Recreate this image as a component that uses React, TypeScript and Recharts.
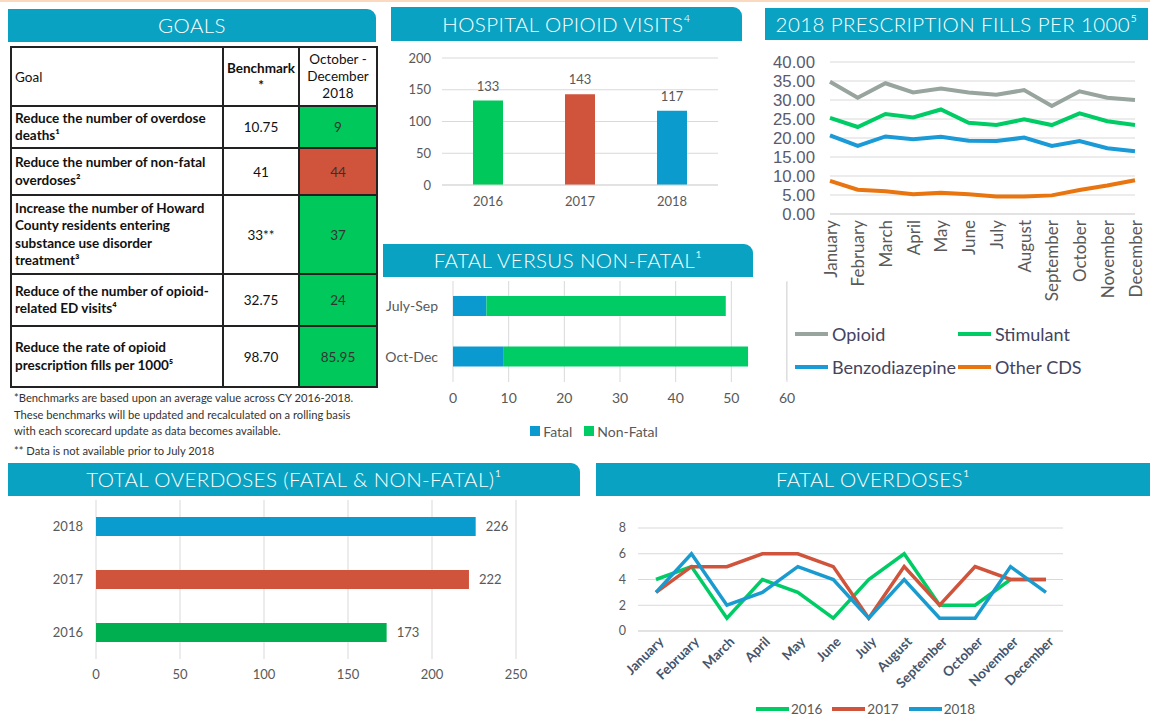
import React from 'react';
import {
  BarChart, Bar, XAxis, YAxis, CartesianGrid, LabelList, Cell, LineChart, Line, Legend,
} from 'recharts';

// ---------- DATA ----------
const goalTexts = [
  'Reduce the number of overdose deaths¹',
  'Reduce the number of non-fatal overdoses²',
  'Increase the number of Howard County residents entering substance use disorder treatment³',
  'Reduce of the number of opioid-related ED visits⁴',
  'Reduce the rate of opioid prescription fills per 1000⁵',
];
const goalBenchmarks = ['10.75', '41', '33**', '32.75', '98.70'];
const goalResults = ['9', '44', '37', '24', '85.95'];
const goalMet = [true, false, true, true, true];

const hospitalYears = ['2016', '2017', '2018'];
const hospitalVisits = [133, 143, 117];
const hospitalTicks = [0, 50, 100, 150, 200];

const months = ['January', 'February', 'March', 'April', 'May', 'June', 'July', 'August', 'September', 'October', 'November', 'December'];
const opioidFills = [34.8, 30.6, 34.4, 32.0, 33.0, 32.0, 31.4, 32.6, 28.4, 32.3, 30.6, 30.0];
const stimulantFills = [25.3, 22.9, 26.3, 25.4, 27.5, 24.0, 23.4, 24.9, 23.4, 26.5, 24.4, 23.4];
const benzoFills = [20.7, 17.9, 20.4, 19.7, 20.3, 19.3, 19.2, 20.1, 17.9, 19.2, 17.3, 16.5];
const otherCdsFills = [8.7, 6.4, 6.0, 5.2, 5.6, 5.2, 4.6, 4.6, 4.9, 6.3, 7.5, 8.9];
const fillTicks = [0, 5, 10, 15, 20, 25, 30, 35, 40];
const fillSeries = ['Opioid', 'Stimulant', 'Benzodiazepine', 'Other CDS'];
const fillColors = ['#98a49e', '#00cc66', '#1a9ad6', '#e8750f'];

const quarters = ['July-Sep', 'Oct-Dec'];
const fatalQuarter = [6, 9];
const nonFatalQuarter = [43, 44];
const quarterTicks = [0, 10, 20, 30, 40, 50, 60];

const totalYears = ['2018', '2017', '2016'];
const totalOverdoses = [226, 222, 173];
const totalTicks = [0, 50, 100, 150, 200, 250];

const fatal2016 = [4, 5, 1, 4, 3, 1, 4, 6, 2, 2, 4, 4];
const fatal2017 = [3, 5, 5, 6, 6, 5, 1, 5, 2, 5, 4, 4];
const fatal2018 = [3, 6, 2, 3, 5, 4, 1, 4, 1, 1, 5, 3];
const fatalTicks = [0, 2, 4, 6, 8];

// ---------- STYLE ----------
const TEAL = '#0aa2c2';
const GREEN = '#00c85a';
const RED = '#d0533b';
const BLUE = '#0b9bcc';
const GRAY_TXT = '#595959';
const GRID = '#d9d9d9';
const FONT = 'Lato, "Open Sans", "DejaVu Sans", sans-serif';

const hospitalData = hospitalYears.map((y, i) => ({ year: y, visits: hospitalVisits[i] }));
const hospitalColors = [GREEN, RED, BLUE];
const fillsData = months.map((m, i) => ({
  month: m, Opioid: opioidFills[i], Stimulant: stimulantFills[i], Benzodiazepine: benzoFills[i], 'Other CDS': otherCdsFills[i],
}));
const quarterData = quarters.map((q, i) => ({ q, Fatal: fatalQuarter[i], 'Non-Fatal': nonFatalQuarter[i] }));
const totalData = totalYears.map((y, i) => ({ year: y, total: totalOverdoses[i] }));
const totalColors = ['#0a9bcf', RED, '#00b050'];
const fatalData = months.map((m, i) => ({ month: m, '2016': fatal2016[i], '2017': fatal2017[i], '2018': fatal2018[i] }));

const Header = ({ left, top, width, height, rounded, children }: any) => (
  <div style={{
    position: 'absolute', left, top, width, height, background: TEAL, color: '#fff',
    fontFamily: FONT, fontWeight: 300, fontSize: 20.5, lineHeight: `${height}px`,
    textAlign: 'center', borderTopRightRadius: rounded ? 9 : 0, letterSpacing: 0.4, whiteSpace: 'nowrap',
  }}>{children}</div>
);

const cellBorder = '2px solid #222';

const GoalsTable = () => (
  <table style={{
    position: 'absolute', left: 10, top: 46, width: 366, borderCollapse: 'collapse',
    fontFamily: FONT, fontSize: 13.5, color: '#111', tableLayout: 'fixed',
  }}>
    <colgroup><col style={{ width: 212 }} /><col style={{ width: 76 }} /><col style={{ width: 78 }} /></colgroup>
    <tbody>
      <tr style={{ height: 59 }}>
        <td style={{ border: cellBorder, padding: '0 3px' }}>Goal</td>
        <td style={{ border: cellBorder, textAlign: 'center', fontWeight: 700, verticalAlign: 'top', paddingTop: 12, lineHeight: '17px' }}>Benchmark<br />*</td>
        <td style={{ border: cellBorder, textAlign: 'center', lineHeight: '17px' }}>October -<br />December<br />2018</td>
      </tr>
      {goalTexts.map((g, i) => (
        <tr key={i} style={{ height: [42, 47, 79, 52, 61][i] }}>
          <td style={{ border: cellBorder, padding: '0 8px 0 3px', fontWeight: 700, lineHeight: '17.5px' }}>{g}</td>
          <td style={{ border: cellBorder, textAlign: 'center' }}>{goalBenchmarks[i]}</td>
          <td style={{ border: cellBorder, textAlign: 'center', background: goalMet[i] ? GREEN : RED, color: '#333' }}>{goalResults[i]}</td>
        </tr>
      ))}
    </tbody>
  </table>
);

const FillsTick = ({ x, y, payload }: any) => (
  <text x={x} y={y} transform={`rotate(-90, ${x}, ${y})`} textAnchor="end" dominantBaseline="central"
    fill={GRAY_TXT} fontSize={17} fontFamily={FONT}>{payload.value}</text>
);

const FatalTick = ({ x, y, payload }: any) => (
  <text x={x + 5} y={y + 6} transform={`rotate(-45, ${x + 5}, ${y + 6})`} textAnchor="end" dominantBaseline="central"
    fill="#44546a" fontSize={13.5} fontWeight={700} fontFamily={FONT}>{payload.value}</text>
);

const FillsLegend = () => (
  <div style={{ position: 'relative', height: 70, fontFamily: FONT, fontSize: 18, color: '#44445e' }}>
    {fillSeries.map((name, i) => (
      <div key={i} style={{ position: 'absolute', left: i % 2 === 0 ? 30 : 193, top: i < 2 ? 8 : 41, display: 'flex', alignItems: 'center', height: 24, whiteSpace: 'nowrap' }}>
        <span style={{ display: 'inline-block', width: 33, height: 4, background: fillColors[i], marginRight: 4 }} />
        <span>{name}</span>
      </div>
    ))}
  </div>
);

const SquareLegend = ({ payload }: any) => (
  <div style={{ height: 26, paddingLeft: 30, display: 'flex', justifyContent: 'center', alignItems: 'center', fontFamily: FONT, fontSize: 14, color: GRAY_TXT }}>
    {(payload || []).map((p: any, i: number) => (
      <span key={i} style={{ display: 'flex', alignItems: 'center', marginRight: 12 }}>
        <span style={{ display: 'inline-block', width: 10, height: 10, background: p.color, marginRight: 3 }} />{p.value}
      </span>
    ))}
  </div>
);

const LineLegend = ({ payload }: any) => (
  <div style={{ height: 16, paddingLeft: 82, display: 'flex', justifyContent: 'center', alignItems: 'center', fontFamily: FONT, fontSize: 13.5, color: GRAY_TXT }}>
    {(payload || []).map((p: any, i: number) => (
      <span key={i} style={{ display: 'flex', alignItems: 'center', marginRight: 10 }}>
        <span style={{ display: 'inline-block', width: 33, height: 4, background: p.color, marginRight: 2 }} />{p.value}
      </span>
    ))}
  </div>
);

const tickStyle = { fill: GRAY_TXT, fontSize: 13, fontFamily: FONT };

export default function App() {
  return (
    <div style={{ position: 'absolute', left: 0, top: 0, width: 1150, height: 717, background: '#fff', overflow: 'hidden', fontFamily: FONT }}>
      <div style={{ position: 'absolute', left: 0, top: 0, width: 1150, height: 2, background: '#fbd9bf' }} />

      <Header left={8} top={9} width={368} height={33} rounded>GOALS</Header>
      <GoalsTable />
      <div style={{ position: 'absolute', left: 14, top: 390, fontFamily: FONT, fontSize: 11.2, lineHeight: '16.5px', color: '#333', whiteSpace: 'nowrap' }}>
        *Benchmarks are based upon an average value across CY 2016-2018.<br />
        These benchmarks will be updated and recalculated on a rolling basis<br />
        with each scorecard update as data becomes available.
      </div>
      <div style={{ position: 'absolute', left: 14, top: 444, fontFamily: FONT, fontSize: 11.2, color: '#333' }}>** Data is not available prior to July 2018</div>

      <Header left={391} top={7} width={351} height={34} rounded>HOSPITAL OPIOID VISITS⁴</Header>
      <div style={{ position: 'absolute', left: 391, top: 45 }}>
        <BarChart width={350} height={180} data={hospitalData} margin={{ top: 13, right: 23, bottom: 10, left: 0 }}>
          <CartesianGrid vertical={false} stroke={GRID} />
          <XAxis dataKey="year" axisLine={{ stroke: GRID }} tickLine={false} tickSize={0} tickMargin={12} height={30} tick={tickStyle} />
          <YAxis domain={[0, 200]} ticks={hospitalTicks} interval={0} axisLine={false} tickLine={false} tickSize={0} tickMargin={11} width={51} tick={tickStyle} />
          <Bar dataKey="visits" barSize={30} isAnimationActive={false}>
            {hospitalData.map((d, i) => <Cell key={i} fill={hospitalColors[i]} />)}
            <LabelList dataKey="visits" position="top" offset={10} style={{ fill: GRAY_TXT, fontSize: 13, fontFamily: FONT }} />
          </Bar>
        </BarChart>
      </div>

      <Header left={765} top={8} width={383} height={32}>2018 PRESCRIPTION FILLS PER 1000⁵</Header>
      <div style={{ position: 'absolute', left: 786, top: 282, width: 1, height: 98, background: '#e3e3e3' }} />
      <div style={{ position: 'absolute', left: 765, top: 45 }}>
        <LineChart width={385} height={339} data={fillsData} margin={{ top: 17, right: 15, bottom: 0, left: 0 }}>
          <CartesianGrid vertical={false} stroke={GRID} />
          <XAxis dataKey="month" interval={0} axisLine={{ stroke: GRID }} tickLine={false} tickSize={0} tickMargin={6} height={100} tick={<FillsTick />} />
          <YAxis domain={[0, 40]} ticks={fillTicks} interval={0} axisLine={false} tickLine={false} tickSize={0} tickMargin={15} width={65}
            tick={{ fill: '#5a5a6e', fontSize: 16.8, fontFamily: '"Liberation Sans", Arial, sans-serif' }} tickFormatter={(v: number) => v.toFixed(2)} />
          <Legend verticalAlign="bottom" content={<FillsLegend />} />
          {fillSeries.map((name, i) => (
            <Line key={name} dataKey={name} stroke={fillColors[i]} strokeWidth={4} dot={false} isAnimationActive={false} />
          ))}
        </LineChart>
      </div>

      <Header left={383} top={244} width={370} height={33} rounded>FATAL VERSUS NON-FATAL¹</Header>
      <div style={{ position: 'absolute', left: 383, top: 278 }}>
        <BarChart layout="vertical" width={420} height={170} data={quarterData} margin={{ top: 3, right: 16, bottom: 4, left: 0 }}>
          <CartesianGrid horizontal={false} stroke={GRID} />
          <XAxis type="number" domain={[0, 60]} ticks={quarterTicks} interval={0} axisLine={false} tickLine={false} tickSize={0} tickMargin={11} height={36}
            tick={{ fill: GRAY_TXT, fontSize: 14, fontFamily: FONT }} />
          <YAxis type="category" dataKey="q" axisLine={false} tickLine={false} tickSize={0} tickMargin={15} width={70}
            tick={{ fill: GRAY_TXT, fontSize: 14, fontFamily: FONT }} />
          <Legend verticalAlign="bottom" content={<SquareLegend />} />
          <Bar dataKey="Fatal" stackId="a" fill="#0a9ad0" barSize={20} isAnimationActive={false} />
          <Bar dataKey="Non-Fatal" stackId="a" fill="#00cc66" barSize={20} isAnimationActive={false} />
        </BarChart>
      </div>

      <Header left={8} top={463} width={572} height={33} rounded>TOTAL OVERDOSES (FATAL &amp; NON-FATAL)¹</Header>
      <div style={{ position: 'absolute', left: 8, top: 497 }}>
        <BarChart layout="vertical" width={572} height={210} data={totalData} margin={{ top: 3, right: 64, bottom: 18, left: 0 }}>
          <CartesianGrid horizontal={false} stroke={GRID} />
          <XAxis type="number" domain={[0, 250]} ticks={totalTicks} interval={0} axisLine={false} tickLine={false} tickSize={0} tickMargin={11} height={30} tick={tickStyle} />
          <YAxis type="category" dataKey="year" axisLine={false} tickLine={false} tickSize={0} tickMargin={13} width={88} tick={tickStyle} />
          <Bar dataKey="total" barSize={19} isAnimationActive={false}>
            {totalData.map((d, i) => <Cell key={i} fill={totalColors[i]} />)}
            <LabelList dataKey="total" position="right" offset={10} style={{ fill: GRAY_TXT, fontSize: 13, fontFamily: FONT }} />
          </Bar>
        </BarChart>
      </div>

      <Header left={596} top={463} width={554} height={33}>FATAL OVERDOSES¹</Header>
      <div style={{ position: 'absolute', left: 596, top: 500 }}>
        <LineChart width={554} height={217} data={fatalData} margin={{ top: 28, right: 87, bottom: 0, left: 0 }}>
          <CartesianGrid vertical={false} stroke={GRID} />
          <XAxis dataKey="month" interval={0} padding={{ left: 18, right: 17 }} axisLine={{ stroke: GRID }} tickLine={false} tickSize={0} height={70} tick={<FatalTick />} />
          <YAxis domain={[0, 8]} ticks={fatalTicks} interval={0} axisLine={false} tickLine={false} tickSize={0} tickMargin={12} width={42}
            tick={{ fill: GRAY_TXT, fontSize: 12.5, fontFamily: FONT }} />
          <Legend verticalAlign="bottom" content={<LineLegend />} />
          <Line dataKey="2016" stroke="#00cc66" strokeWidth={3.5} dot={false} isAnimationActive={false} />
          <Line dataKey="2017" stroke={RED} strokeWidth={3.5} dot={false} isAnimationActive={false} />
          <Line dataKey="2018" stroke="#1a9bd0" strokeWidth={3.5} dot={false} isAnimationActive={false} />
        </LineChart>
      </div>
    </div>
  );
}
